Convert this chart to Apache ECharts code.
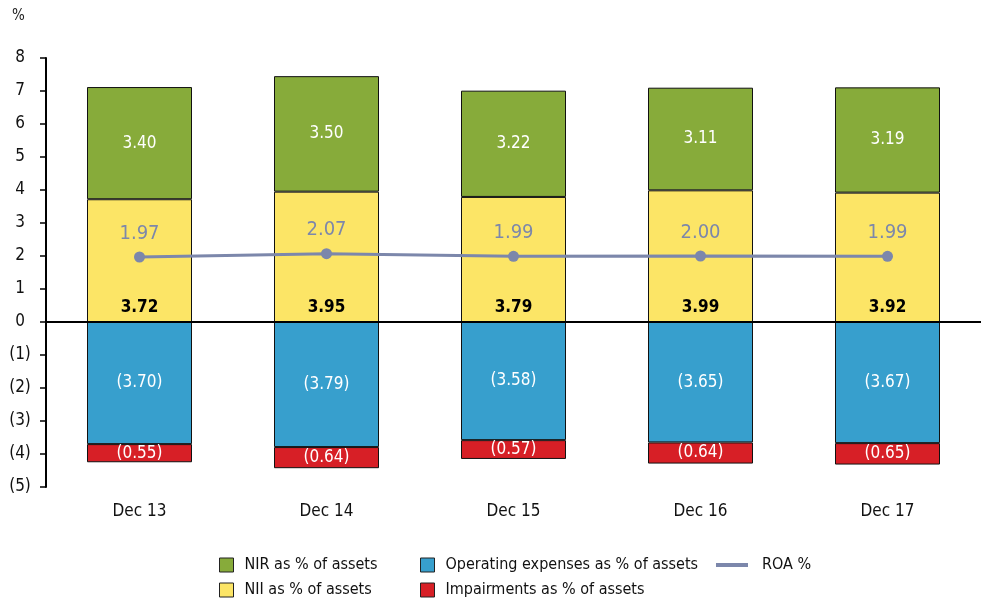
<!DOCTYPE html>
<html>
<head>
<meta charset="utf-8">
<script src="https://cdn.jsdelivr.net/npm/echarts@6/dist/echarts.min.js"></script>
<style>
html,body{margin:0;padding:0;background:#fff;}
#c{width:981px;height:603px;}
</style>
</head>
<body>
<div id="c"></div>
<script>
const categories = ['Dec 13', 'Dec 14', 'Dec 15', 'Dec 16', 'Dec 17'];
const nii = [3.72, 3.95, 3.79, 3.99, 3.92];
const nir = [3.40, 3.50, 3.22, 3.11, 3.19];
const opex = [-3.70, -3.79, -3.58, -3.65, -3.67];
const impairments = [-0.55, -0.64, -0.57, -0.64, -0.65];
const roa = [1.97, 2.07, 1.99, 2.00, 1.99];
const yTicks = {min: -5, max: 8, interval: 1};

const FONT = '"Liberation Sans Narrow", "DejaVu Sans Condensed", Arial, sans-serif';
const fmt = v => v < 0 ? '(' + Math.abs(v).toFixed(2) + ')' : v.toFixed(2);

const chart = echarts.init(document.getElementById('c'), null, {renderer: 'canvas'});
const barBase = {
  type: 'bar', stack: 'total', barWidth: 105,
  emphasis: {disabled: true}
};
const legendText = {fontSize: 16, color: '#111', fontFamily: FONT, padding: [0, 0, 0, 6]};
const legendItem = {borderColor: '#222', borderWidth: 1};
chart.setOption({
  animation: false,
  textStyle: {fontFamily: FONT},
  grid: {left: 46, top: 58, width: 945, bottom: 116, containLabel: false},
  graphic: [{type: 'text', left: 12, top: 9, style: {text: '%', fontSize: 15, fontFamily: FONT, fill: '#222'}}],
  legend: [
    {left: 219, top: 557, orient: 'vertical', padding: 0, itemGap: 9, itemWidth: 14, itemHeight: 14, icon: 'rect',
     itemStyle: legendItem, textStyle: legendText, data: ['NIR as % of assets', 'NII as % of assets']},
    {left: 420, top: 557, orient: 'vertical', padding: 0, itemGap: 9, itemWidth: 14, itemHeight: 14, icon: 'rect',
     itemStyle: legendItem, textStyle: legendText, data: ['Operating expenses as % of assets', 'Impairments as % of assets']},
    {left: 716, top: 557, padding: 0, itemWidth: 32, itemHeight: 4, icon: 'rect',
     itemStyle: {borderWidth: 0},
     textStyle: {fontSize: 16, color: '#111', fontFamily: FONT, padding: [0, 0, 0, 9]}, data: ['ROA %']}
  ],
  xAxis: {
    type: 'category', data: categories,
    axisLine: {show: false, onZero: false}, axisTick: {show: false},
    axisLabel: {fontSize: 17, color: '#111', margin: 16, fontFamily: FONT}
  },
  yAxis: {
    type: 'value', min: yTicks.min, max: yTicks.max, interval: yTicks.interval,
    splitLine: {show: false},
    axisLine: {show: true, lineStyle: {color: '#000', width: 2}},
    axisTick: {show: true, length: 6, lineStyle: {color: '#000', width: 1.5}},
    axisLabel: {fontSize: 17, color: '#111', margin: 26, align: 'center', fontFamily: FONT, formatter: v => v < 0 ? '(' + Math.abs(v) + ')' : String(v)}
  },
  series: [
    Object.assign({}, barBase, {
      name: 'NII as % of assets', data: nii,
      itemStyle: {color: '#fce566', borderColor: '#111', borderWidth: 1},
      label: {show: true, position: 'insideBottom', distance: 6, fontSize: 17, fontWeight: 'bold', color: '#000', fontFamily: FONT, formatter: p => fmt(p.value)}
    }),
    Object.assign({}, barBase, {
      name: 'NIR as % of assets', data: nir,
      itemStyle: {color: '#87ab3a', borderColor: '#111', borderWidth: 1},
      label: {show: true, position: 'inside', fontSize: 17, color: '#fff', fontFamily: FONT, formatter: p => fmt(p.value)}
    }),
    Object.assign({}, barBase, {
      name: 'Operating expenses as % of assets', data: opex,
      itemStyle: {color: '#379fcd', borderColor: '#111', borderWidth: 1},
      label: {show: true, position: 'inside', fontSize: 17, color: '#fff', fontFamily: FONT, formatter: p => fmt(p.value)},
      markLine: {silent: true, symbol: 'none', label: {show: false},
        lineStyle: {color: '#000', width: 2, type: 'solid'}, data: [{yAxis: 0}]}
    }),
    Object.assign({}, barBase, {
      name: 'Impairments as % of assets', data: impairments,
      itemStyle: {color: '#d71f26', borderColor: '#111', borderWidth: 1},
      label: {show: true, position: 'inside', fontSize: 17, color: '#fff', fontFamily: FONT, formatter: p => fmt(p.value)}
    }),
    {
      name: 'ROA %', type: 'line', data: roa, z: 5,
      symbol: 'circle', symbolSize: 11,
      itemStyle: {color: '#7c87ab'},
      lineStyle: {color: '#7c87ab', width: 3},
      label: {show: true, position: 'top', distance: 8, fontSize: 20, color: '#7c87ab', fontFamily: FONT, formatter: p => fmt(p.value)},
      emphasis: {disabled: true}
    }
  ]
});
</script>
</body>
</html>
